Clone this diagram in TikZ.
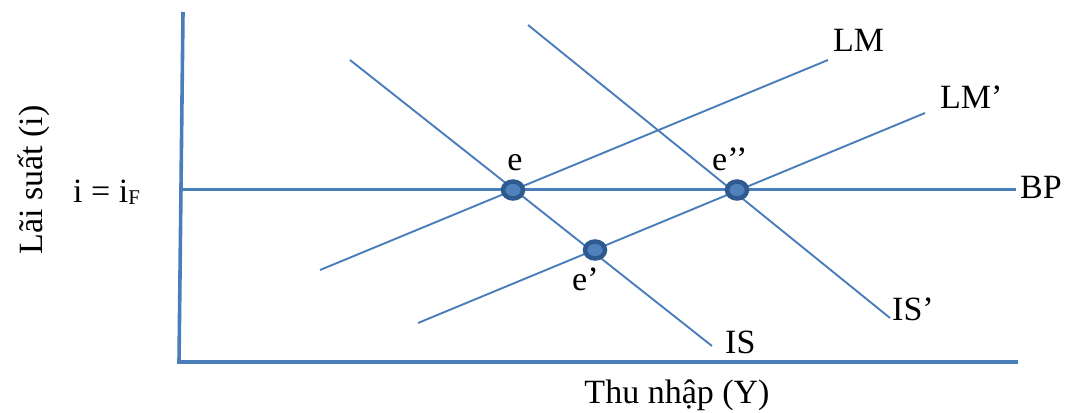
\documentclass[tikz,border=0pt]{standalone}
\usepackage{fontspec}
\setmainfont{Liberation Serif}
\usetikzlibrary{shapes.geometric}
\definecolor{lineblue}{HTML}{4A7EBB}
\definecolor{dotedge}{HTML}{2F5A8F}
\definecolor{dotfill}{HTML}{4F81BD}
\begin{document}
\begin{tikzpicture}[x=1pt,y=-1pt,
  curve/.style={draw=lineblue,line width=1.9pt},
  axisline/.style={draw=lineblue,line width=3.6pt},
  bpline/.style={draw=lineblue,line width=3pt},
  eqdot/.style={ellipse,draw=dotedge,fill=dotfill,line width=4.5pt,minimum width=20pt,minimum height=17pt,inner sep=0pt},
  lbl/.style={font=\fontsize{34}{40}\selectfont,inner sep=0pt,anchor=base west}]
\useasboundingbox (0,0) rectangle (1067,412);
% axes
\coordinate (ytop) at (183,12);
\coordinate (origin) at (179,362);
\coordinate (xend) at (1018,362);
\draw[axisline] (ytop) -- (origin) -- (xend);
% BP
\coordinate (bpL) at (179,189);
\coordinate (bpR) at (1016,189);
\draw[bpline] (bpL) -- (bpR);
% LM
\coordinate (lm1) at (320,270);
\coordinate (lm2) at (828,60);
\draw[curve] (lm1) -- (lm2);
% LM'
\coordinate (lmp1) at (418,323);
\coordinate (lmp2) at (925,113);
\draw[curve] (lmp1) -- (lmp2);
% IS
\coordinate (is1) at (350,60);
\coordinate (is2) at (712,346);
\draw[curve] (is1) -- (is2);
% IS'
\coordinate (isp1) at (528,25);
\coordinate (isp2) at (890,318);
\draw[curve] (isp1) -- (isp2);
% equilibrium points
\node[eqdot] (e) at (513,190) {};
\node[eqdot] (ep) at (595,250) {};
\node[eqdot] (epp) at (737,190) {};
% labels
\node[lbl] (lLM) at (833,52) {LM};
\node[lbl] (lLMp) at (940,108) {LM’};
\node[lbl] (lIS) at (725,353) {IS};
\node[lbl] (lISp) at (892,320) {IS’};
\node[lbl] (lBP) at (1020,198) {BP};
\node[lbl,anchor=base] (le) at (515,170) {e};
\node[lbl] (lepp) at (712,170) {e’’};
\node[lbl] (lep) at (572,290) {e’};
\node[lbl] (liF) at (73,202) {i = i\raisebox{-2pt}{\fontsize{21}{24}\selectfont F}};
\node[lbl,anchor=base,rotate=90] (ylab) at (42,180) {Lãi suất (i)};
\node[lbl,anchor=base] (xlab) at (677,403) {Thu nhập (Y)};
\end{tikzpicture}
\end{document}
